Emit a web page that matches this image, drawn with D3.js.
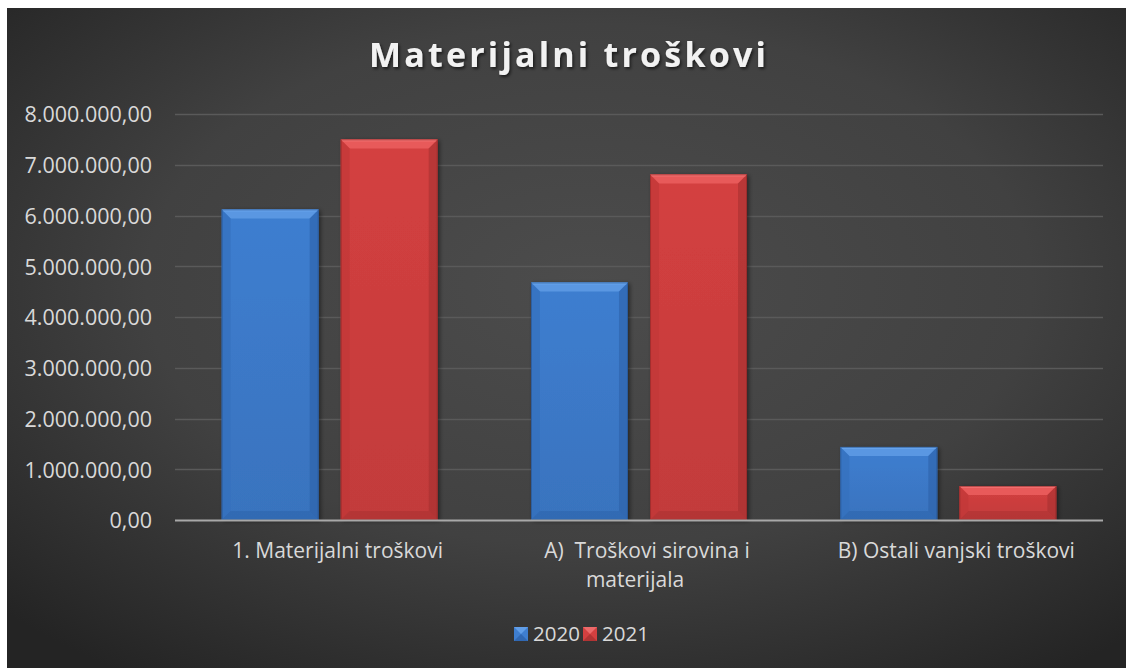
<!DOCTYPE html>
<html>
<head>
<meta charset="utf-8">
<script src="https://cdn.jsdelivr.net/npm/d3@7"></script>
<style>
  html, body { margin: 0; padding: 0; background: #ffffff; }
  svg { display: block; }
  text { white-space: pre; }
</style>
</head>
<body>
<svg id="chart" width="1126" height="668"></svg>
<script>
// Material costs by year
const categories = ["1. Materijalni troškovi", "A)  Troškovi sirovina i materijala", "B) Ostali vanjski troškovi"];
const categoryLines = [["1. Materijalni troškovi"], ["A)  Troškovi sirovina i", "materijala"], ["B) Ostali vanjski troškovi"]];
const seriesNames = ["2020", "2021"];
const values2020 = [6120000, 4680000, 1440000];
const values2021 = [7500000, 6810000, 670000];
const yTicks = [0, 1000000, 2000000, 3000000, 4000000, 5000000, 6000000, 7000000, 8000000];
const titleText = "Materijalni troškovi";

const palette = {
  "2020": { face: "#3e7ed0", light: "#6aa6ee", top: "#5a97e2", dark: "#2b5fa6", side: "#3470bd" },
  "2021": { face: "#d44040", light: "#f27474", top: "#e85a5a", dark: "#a32f2f", side: "#c23838" }
};

const hr = d3.formatLocale({ decimal: ",", thousands: ".", grouping: [3], currency: ["", ""] });
const fmt = hr.format(",.2f");

const svg = d3.select("#chart");
const W = 1126, H = 668;
const defs = svg.append("defs");

// background: dark radial gradient
const bg = defs.append("radialGradient").attr("id", "bg")
  .attr("cx", "0.52").attr("cy", "0.42").attr("r", "0.72");
bg.append("stop").attr("offset", "0").attr("stop-color", "#4c4c4c");
bg.append("stop").attr("offset", "0.55").attr("stop-color", "#414141");
bg.append("stop").attr("offset", "1").attr("stop-color", "#242424");

const shadow = defs.append("filter").attr("id", "tshadow").attr("x", "-10%").attr("y", "-30%").attr("width", "120%").attr("height", "160%");
shadow.append("feDropShadow").attr("dx", 1.5).attr("dy", 2).attr("stdDeviation", 1.5).attr("flood-color", "#000").attr("flood-opacity", 0.6);

const barShadow = defs.append("filter").attr("id", "bshadow").attr("x", "-10%").attr("y", "-10%").attr("width", "125%").attr("height", "125%");
barShadow.append("feDropShadow").attr("dx", 2).attr("dy", 1).attr("stdDeviation", 2).attr("flood-color", "#000").attr("flood-opacity", 0.45);

seriesNames.forEach(s => {
  const g = defs.append("linearGradient").attr("id", "face" + s).attr("x1", 0).attr("y1", 0).attr("x2", 0).attr("y2", 1);
  g.append("stop").attr("offset", 0).attr("stop-color", palette[s].face);
  g.append("stop").attr("offset", 1).attr("stop-color", d3.color(palette[s].face).darker(0.25));
});

svg.append("rect").attr("x", 7).attr("y", 8).attr("width", W - 7).attr("height", H - 8).attr("fill", "url(#bg)");

// title
svg.append("text")
  .attr("x", 569).attr("y", 67)
  .attr("text-anchor", "middle")
  .attr("font-family", "'Open Sans', sans-serif")
  .attr("font-weight", 700)
  .attr("font-size", 34)
  .attr("letter-spacing", 3.2)
  .attr("fill", "#f2f2f2")
  .attr("filter", "url(#tshadow)")
  .text(titleText);

const plot = { left: 175, right: 1103, top: 114, bottom: 520 };

const y = d3.scaleLinear().domain([0, 8000000]).range([plot.bottom, plot.top]);
const x0 = d3.scaleBand().domain(categories).range([plot.left, plot.right]).padding(0);
const x1 = d3.scaleBand().domain(seriesNames).range([0, x0.bandwidth()]).paddingInner(0.185).paddingOuter(0.392);

// gridlines
svg.append("g")
  .selectAll("line")
  .data(yTicks.filter(d => d > 0))
  .join("line")
  .attr("x1", plot.left).attr("x2", plot.right)
  .attr("y1", d => Math.round(y(d)) + 0.5).attr("y2", d => Math.round(y(d)) + 0.5)
  .attr("stroke", "#5a5a5a").attr("stroke-width", 1.3);

// y axis labels
const yAxis = d3.axisLeft(y).tickValues(yTicks).tickFormat(fmt).tickSize(0).tickPadding(23);
const yg = svg.append("g").attr("transform", `translate(${plot.left},0)`).call(yAxis);
yg.select(".domain").remove();
yg.selectAll("text")
  .attr("font-family", "'Open Sans', sans-serif")
  .attr("font-size", 21.5)
  .attr("fill", "#d9d9d9")
  .attr("dy", "0.36em");

// bars
const rows = categories.map((c, i) => ({ cat: c, vals: [
  { s: "2020", v: values2020[i] },
  { s: "2021", v: values2021[i] }
]}));

svg.append("g").selectAll("g.grp")
  .data(rows).join("g")
  .attr("class", "grp")
  .attr("transform", d => `translate(${x0(d.cat)},0)`)
  .selectAll("g.bar")
  .data(d => d.vals).join("g")
  .attr("class", "bar")
  .each(function (d) {
    const g = d3.select(this);
    const bx = x1(d.s), bw = x1.bandwidth();
    const by = y(d.v), bh = y(0) - y(d.v);
    const p = palette[d.s];
    const b = Math.min(9, bh / 2.5);
    g.append("rect").attr("x", bx).attr("y", by).attr("width", bw).attr("height", bh)
      .attr("fill", "url(#face" + d.s + ")").attr("filter", "url(#bshadow)");
    // top bevel
    g.append("polygon")
      .attr("points", [[bx, by], [bx + bw, by], [bx + bw - b, by + b], [bx + b, by + b]].map(q => q.join(",")).join(" "))
      .attr("fill", p.top);
    g.append("line").attr("x1", bx + 1).attr("x2", bx + bw - 1).attr("y1", by + 1).attr("y2", by + 1)
      .attr("stroke", p.light).attr("stroke-width", 2).attr("opacity", 0.8);
    // left bevel
    g.append("polygon")
      .attr("points", [[bx, by], [bx + b, by + b], [bx + b, by + bh - b], [bx, by + bh]].map(q => q.join(",")).join(" "))
      .attr("fill", p.side).attr("opacity", 0.7);
    // right bevel
    g.append("polygon")
      .attr("points", [[bx + bw, by], [bx + bw - b, by + b], [bx + bw - b, by + bh - b], [bx + bw, by + bh]].map(q => q.join(",")).join(" "))
      .attr("fill", p.dark).attr("opacity", 0.55);
    // bottom bevel
    g.append("polygon")
      .attr("points", [[bx, by + bh], [bx + b, by + bh - b], [bx + bw - b, by + bh - b], [bx + bw, by + bh]].map(q => q.join(",")).join(" "))
      .attr("fill", p.dark).attr("opacity", 0.45);
    // thin dark outline on the sides
    g.append("rect").attr("x", bx + 0.5).attr("y", by + 0.5).attr("width", bw - 1).attr("height", bh - 1)
      .attr("fill", "none").attr("stroke", d3.color(p.dark).darker(0.6)).attr("stroke-opacity", 0.5);
  });

// baseline
svg.append("line")
  .attr("x1", plot.left).attr("x2", plot.right)
  .attr("y1", y(0) + 0.5).attr("y2", y(0) + 0.5)
  .attr("stroke", "#a8a8a8").attr("stroke-width", 2);

// category labels
const catX = d => x0(d) + x0.bandwidth() / 2 + 8;
const catG = svg.append("g").selectAll("text")
  .data(categories).join("text")
  .attr("font-family", "'Open Sans', sans-serif")
  .attr("font-size", 21)
  .attr("fill", "#d9d9d9")
  .attr("text-anchor", "middle")
  .attr("x", catX)
  .attr("y", 558);
catG.each(function (d, i) {
  const t = d3.select(this);
  categoryLines[i].forEach((line, j) => {
    t.append("tspan").attr("x", catX(d) - (j > 0 ? 12 : 0)).attr("dy", j === 0 ? 0 : 29).text(line);
  });
});

// legend
const legend = svg.append("g").attr("transform", "translate(0,634)");
const legX = [514, 583];
seriesNames.forEach((s, i) => {
  const g = legend.append("g").attr("transform", `translate(${legX[i]},0)`);
  const p = palette[s];
  g.append("rect").attr("x", 0).attr("y", -7).attr("width", 14).attr("height", 14).attr("fill", p.face);
  g.append("polygon").attr("points", "0,-7 14,-7 7,0").attr("fill", p.light).attr("opacity", 0.8);
  g.append("polygon").attr("points", "0,7 14,7 7,0").attr("fill", p.dark).attr("opacity", 0.7);
  g.append("text").attr("x", 19).attr("y", 0).attr("dy", "0.36em")
    .attr("font-family", "'Open Sans', sans-serif").attr("font-size", 20.5).attr("fill", "#d9d9d9").text(s);
});
</script>
</body>
</html>
